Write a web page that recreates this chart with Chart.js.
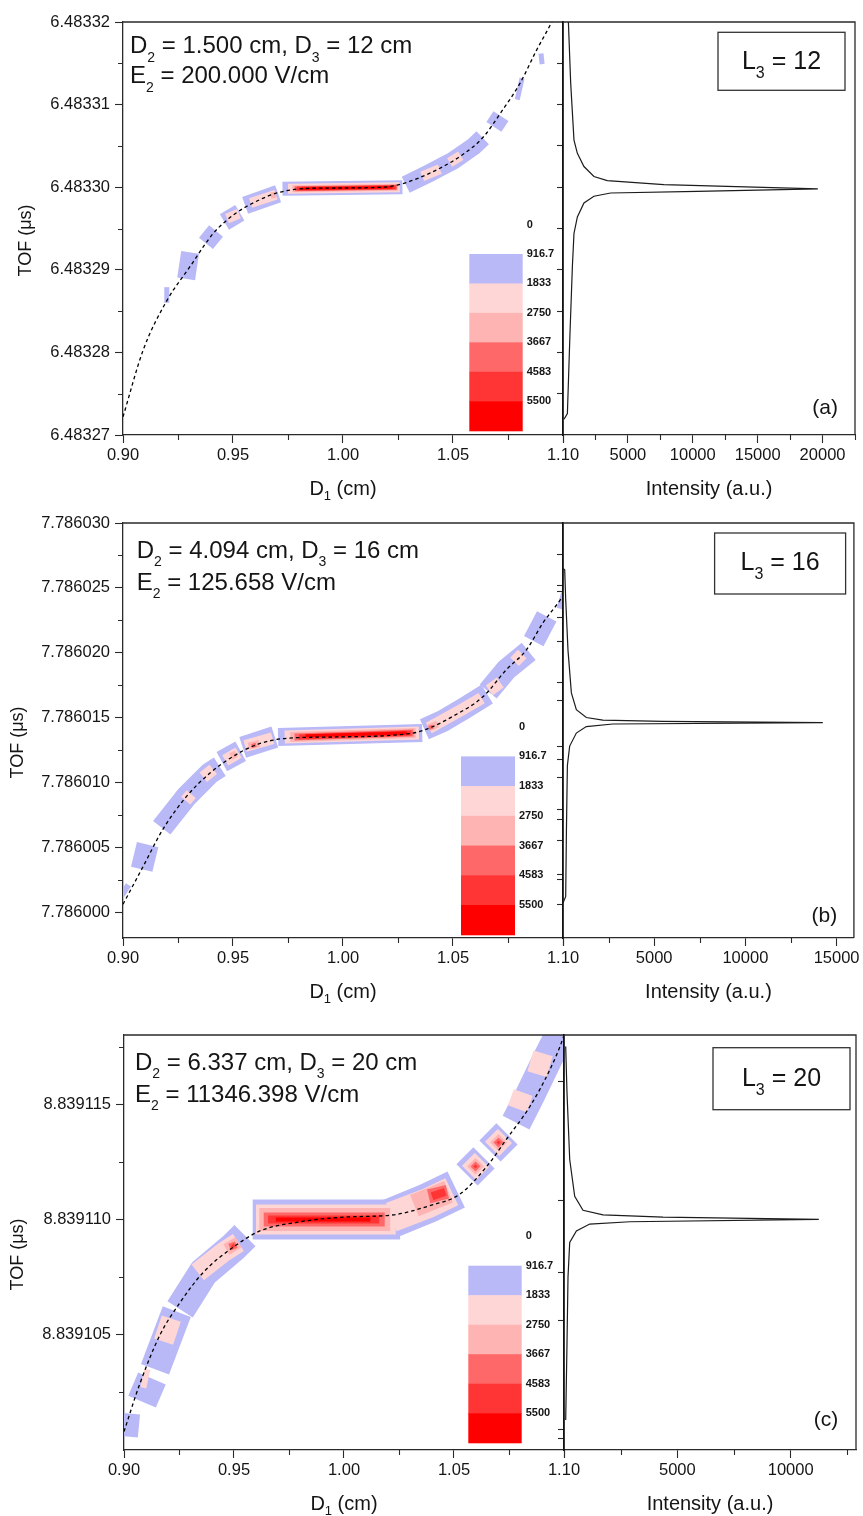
<!DOCTYPE html>
<html>
<head>
<meta charset="utf-8">
<script src="https://cdn.jsdelivr.net/npm/chart.js@4.4.1/dist/chart.umd.min.js"></script>
<style>
  body { margin: 0; background: #fff; }
  #page { position: relative; width: 863px; height: 1516px; overflow: hidden; background: #fff; }
  #page canvas { position: absolute; }
</style>
</head>
<body>
<div id="page"></div>
<script>
// ---------- contour levels (colour bar) ----------
const levelLabels = ['0', '916.7', '1833', '2750', '3667', '4583', '5500'];
const levelColors = ['#b9b9f8', '#ffd6d6', '#ffb4b4', '#ff6868', '#ff3535', '#ff0000'];

// D1 axis, shared by the three contour maps
const d1Ticks = [0.90, 0.95, 1.00, 1.05, 1.10];
const d1Minor = [0.925, 0.975, 1.025, 1.075];

// ---------- (a) L3 = 12 ----------
const tofTicksA = [6.48327, 6.48328, 6.48329, 6.48330, 6.48331, 6.48332];
const tofMinorA = [6.483275, 6.483285, 6.483295, 6.483305, 6.483315];
const fitA = [
  [0.9000, 6.4832722], [0.9092, 6.4832803], [0.9200, 6.4832863], [0.9305, 6.4832904],
  [0.9410, 6.4832944], [0.9500, 6.4832966], [0.9592, 6.4832981], [0.9700, 6.4832993],
  [0.9805, 6.4832998], [0.9955, 6.4832999], [1.0180, 6.4833000], [1.0395, 6.4833017],
  [1.0592, 6.4833049], [1.0645, 6.4833063], [1.0714, 6.4833089], [1.0805, 6.4833126],
  [1.0880, 6.4833166], [1.0949, 6.4833200], [1.0970, 6.4833212]
];
const ridgeA = [
  { lvl: 1, pts: [[0.9725, 6.4832998], [1.0270, 6.4833000]] },
  { lvl: 2, pts: [[0.9750, 6.4832998], [1.0258, 6.4833000]] },
  { lvl: 3, pts: [[0.9770, 6.4832998], [1.0250, 6.4833000]] },
  { lvl: 4, pts: [[0.9780, 6.4832998], [1.0245, 6.4833000]] },
  { lvl: 5, pts: [[0.9790, 6.4832998], [1.0240, 6.4833000]] },
  { lvl: 6, pts: [[0.9810, 6.4832998], [1.0225, 6.4833000]] }
];
const lobesA = [
  { lvl: 1, pts: [[0.9287, 6.4832889], [0.9305, 6.4832921]] },
  { lvl: 1, pts: [[0.9377, 6.4832932], [0.9423, 6.4832947]] },
  { lvl: 1, pts: [[0.9461, 6.4832958], [0.9531, 6.4832969]] },
  { lvl: 1, pts: [[0.9555, 6.4832978], [0.9705, 6.4832992]] },
  { lvl: 1, pts: [[1.0285, 6.4833003], [1.0400, 6.4833018], [1.0500, 6.4833032], [1.0592, 6.4833049], [1.0635, 6.4833060]] },
  { lvl: 1, pts: [[1.0686, 6.4833073], [1.0718, 6.4833086]] },
  { lvl: 2, pts: [[0.9473, 6.4832962], [0.9527, 6.4832968]] },
  { lvl: 2, pts: [[0.9580, 6.4832981], [0.9695, 6.4832991]] },
  { lvl: 2, pts: [[1.0360, 6.4833013], [1.0440, 6.4833022]] },
  { lvl: 2, pts: [[1.0485, 6.4833030], [1.0535, 6.4833038]] },
  { lvl: 3, pts: [[0.9672, 6.4832990], [0.9695, 6.4832991]] }
];
const flecksA = [
  { lvl: 1, pts: [[0.9199, 6.4832860], [0.9199, 6.4832879]] },
  { lvl: 1, pts: [[1.0792, 6.4833106], [1.0814, 6.4833132]] },
  { lvl: 1, pts: [[1.0905, 6.4833149], [1.0900, 6.4833162]] }
];
const intensityA = [77, 338, 538, 723, 846, 1107, 1615, 2384, 3668, 10335, 19640, 7767, 3414, 2384, 1615, 1107, 846, 592, 415];
const specTofA = [6.4832719, 6.4832726, 6.4832823, 6.4832904, 6.4832944, 6.4832964, 6.4832981, 6.4832989, 6.4832993,
  6.4832995, 6.4832998, 6.4833003, 6.4833008, 6.4833013, 6.4833025, 6.4833041, 6.4833057, 6.4833126, 6.4833200];
const intTicksA = [0, 5000, 10000, 15000, 20000];
const intMinorA = [2500, 7500, 12500, 17500, 22500];
const sideTicksA = [6.483275, 6.48328, 6.483285, 6.48329, 6.483295, 6.4833, 6.483305, 6.48331, 6.483315];

// ---------- (b) L3 = 16 ----------
const tofTicksB = [7.786000, 7.786005, 7.786010, 7.786015, 7.786020, 7.786025, 7.786030];
const tofMinorB = [7.7860025, 7.7860075, 7.7860125, 7.7860175, 7.7860225, 7.7860275];
const fitB = [
  [0.9000, 7.7860006], [0.9091, 7.7860035], [0.9182, 7.7860064], [0.9288, 7.7860089],
  [0.9394, 7.7860107], [0.9500, 7.7860120], [0.9606, 7.7860129], [0.9743, 7.7860134],
  [0.9955, 7.7860135], [1.0318, 7.7860138], [1.0394, 7.7860142], [1.0500, 7.7860151],
  [1.0636, 7.7860166], [1.0743, 7.7860187], [1.0833, 7.7860202], [1.0909, 7.7860223],
  [1.0993, 7.7860242], [1.1000, 7.7860244]
];
const ridgeB = [
  { lvl: 1, pts: [[0.9705, 7.7860135], [1.0360, 7.7860138]] },
  { lvl: 2, pts: [[0.9735, 7.7860135], [1.0345, 7.7860138]] },
  { lvl: 3, pts: [[0.9760, 7.7860135], [1.0330, 7.7860138]] },
  { lvl: 4, pts: [[0.9780, 7.7860135], [1.0320, 7.7860138]] },
  { lvl: 5, pts: [[0.9800, 7.7860135], [1.0310, 7.7860138]] },
  { lvl: 6, pts: [[0.9830, 7.7860136], [1.0290, 7.7860138]] }
];
const lobesB = [
  { lvl: 1, pts: [[0.9085, 7.7860033], [0.9112, 7.7860052]] },
  { lvl: 1, pts: [[0.9176, 7.7860065], [0.9288, 7.7860089], [0.9394, 7.7860107], [0.9440, 7.7860112]] },
  { lvl: 1, pts: [[0.9449, 7.7860116], [0.9535, 7.7860124]] },
  { lvl: 1, pts: [[0.9544, 7.7860127], [0.9690, 7.7860135]] },
  { lvl: 1, pts: [[1.0370, 7.7860141], [1.0450, 7.7860147], [1.0550, 7.7860157], [1.0655, 7.7860168]] },
  { lvl: 1, pts: [[1.0660, 7.7860170], [1.0743, 7.7860187], [1.0844, 7.7860201]] },
  { lvl: 1, pts: [[1.0867, 7.7860209], [1.0926, 7.7860228]] },
  { lvl: 2, pts: [[0.9285, 7.7860086], [0.9310, 7.7860091]] },
  { lvl: 2, pts: [[0.9365, 7.7860104], [0.9410, 7.7860110]] },
  { lvl: 2, pts: [[0.9465, 7.7860117], [0.9525, 7.7860123]] },
  { lvl: 2, pts: [[0.9555, 7.7860128], [0.9680, 7.7860134]] },
  { lvl: 2, pts: [[1.0390, 7.7860142], [1.0550, 7.7860157], [1.0630, 7.7860165]] },
  { lvl: 2, pts: [[1.0665, 7.7860171], [1.0715, 7.7860177]] },
  { lvl: 2, pts: [[1.0780, 7.7860193], [1.0815, 7.7860199]] },
  { lvl: 3, pts: [[0.9490, 7.7860120], [0.9515, 7.7860122]] },
  { lvl: 3, pts: [[0.9570, 7.7860128], [0.9620, 7.7860130]] },
  { lvl: 3, pts: [[1.0390, 7.7860142], [1.0430, 7.7860145]] },
  { lvl: 4, pts: [[0.9585, 7.7860128], [0.9605, 7.7860129]] },
  { lvl: 4, pts: [[1.0390, 7.7860142], [1.0410, 7.7860143]] }
];
const flecksB = [
  { lvl: 1, pts: [[0.8990, 7.7860012], [0.9025, 7.7860021]] },
  { lvl: 1, pts: [[1.0985, 7.7860234], [1.1005, 7.7860246]] }
];
const intensityB = [0, 148, 186, 240, 366, 732, 1278, 2732, 14245, 5464, 2186, 1278, 732, 459, 273, 148, 93, 0];
const specTofB = [7.7860007, 7.7860012, 7.7860061, 7.7860113, 7.7860128, 7.7860138, 7.7860143, 7.7860145, 7.7860146,
  7.7860147, 7.7860148, 7.7860150, 7.7860156, 7.7860169, 7.7860202, 7.7860241, 7.7860264, 7.7860265];
const intTicksB = [0, 5000, 10000, 15000];
const intMinorB = [2500, 7500, 12500];
const sideTicksB = [7.7860006, 7.7860025, 7.7860029, 7.7860055, 7.7860071, 7.7860079, 7.7860104, 7.7860118,
  7.7860128, 7.7860163, 7.7860177, 7.7860209, 7.7860227, 7.7860247, 7.7860252, 7.7860276];

// ---------- (c) L3 = 20 ----------
const tofTicksC = [8.839105, 8.839110, 8.839115];
const tofMinorC = [8.8391025, 8.8391075, 8.8391125, 8.8391175];
const fitC = [
  [0.9000, 8.8391008], [0.9073, 8.8391029], [0.9164, 8.8391050], [0.9255, 8.8391064],
  [0.9360, 8.8391077], [0.9497, 8.8391088], [0.9618, 8.8391095], [0.9800, 8.8391099],
  [0.9997, 8.8391101], [1.0224, 8.8391102], [1.0390, 8.8391106], [1.0527, 8.8391111],
  [1.0649, 8.8391123], [1.0740, 8.8391135], [1.0845, 8.8391149], [1.0936, 8.8391165],
  [1.0997, 8.8391179], [1.1000, 8.8391180]
];
const ridgeC = [
  { lvl: 1, pts: [[0.9585, 8.8391100], [1.0255, 8.8391100]] },
  { lvl: 2, pts: [[0.9600, 8.8391100], [1.0235, 8.8391100]] },
  { lvl: 3, pts: [[0.9615, 8.8391100], [1.0210, 8.8391100]] },
  { lvl: 4, pts: [[0.9635, 8.8391100], [1.0185, 8.8391100]] },
  { lvl: 5, pts: [[0.9655, 8.8391100], [1.0160, 8.8391100]] },
  { lvl: 6, pts: [[0.9690, 8.8391100], [1.0120, 8.8391100]] },
  { lvl: 1, pts: [[1.0200, 8.8391100], [1.0380, 8.8391107], [1.0510, 8.8391113]] },
  { lvl: 2, pts: [[1.0215, 8.8391101], [1.0380, 8.8391107], [1.0490, 8.8391112]] },
  { lvl: 3, pts: [[1.0320, 8.8391106], [1.0475, 8.8391112]] },
  { lvl: 4, pts: [[1.0385, 8.8391110], [1.0470, 8.8391112]] },
  { lvl: 5, pts: [[1.0400, 8.8391110], [1.0460, 8.8391112]] }
];
const lobesC = [
  { lvl: 1, pts: [[0.8995, 8.8391006], [0.9005, 8.8391016]] },
  { lvl: 1, pts: [[0.9082, 8.8391021], [0.9127, 8.8391031]] },
  { lvl: 1, pts: [[0.9141, 8.8391035], [0.9240, 8.8391060]] },
  { lvl: 1, pts: [[0.9255, 8.8391061], [0.9361, 8.8391077], [0.9497, 8.8391088], [0.9550, 8.8391093]] },
  { lvl: 1, pts: [[1.05591, 8.83911193], [1.06364, 8.83911267]] },
  { lvl: 1, pts: [[1.06636, 8.83911297], [1.07409, 8.83911371]] },
  { lvl: 1, pts: [[1.0782, 8.8391142], [1.0846, 8.8391154], [1.0927, 8.8391170], [1.0991, 8.8391182]] },
  { lvl: 2, pts: [[0.9180, 8.8391047], [0.9215, 8.8391057]] },
  { lvl: 2, pts: [[0.9335, 8.8391077], [0.9455, 8.8391086], [0.9520, 8.8391090]] },
  { lvl: 2, pts: [[1.05686, 8.83911202], [1.06268, 8.83911258]] },
  { lvl: 2, pts: [[1.06732, 8.83911306], [1.07314, 8.83911362]] },
  { lvl: 2, pts: [[1.0788, 8.8391148], [1.0815, 8.8391155]] },
  { lvl: 2, pts: [[1.0877, 8.8391163], [1.0905, 8.8391172]] },
  { lvl: 3, pts: [[0.9465, 8.8391087], [0.9520, 8.8391090]] },
  { lvl: 3, pts: [[1.05786, 8.83911212], [1.06168, 8.83911248]] },
  { lvl: 3, pts: [[1.06832, 8.83911316], [1.07214, 8.83911352]] },
  { lvl: 4, pts: [[0.9480, 8.8391088], [0.9510, 8.8391089]] },
  { lvl: 4, pts: [[1.05864, 8.83911219], [1.06091, 8.83911241]] },
  { lvl: 4, pts: [[1.06909, 8.83911323], [1.07136, 8.83911345]] },
  { lvl: 5, pts: [[0.9490, 8.8391088], [0.9503, 8.8391089]] },
  { lvl: 5, pts: [[1.05932, 8.83911225], [1.06023, 8.83911234]] },
  { lvl: 5, pts: [[1.06977, 8.83911330], [1.07068, 8.83911338]] }
];
const flecksC = [
  { lvl: 2, pts: [[0.9088, 8.8391027], [0.9106, 8.8391035]] }
];
const intensityC = [75, 132, 177, 252, 547, 1134, 2900, 11240, 4369, 1721, 838, 472, 252, 132, 75];
const specTofC = [8.8391013, 8.8391046, 8.8391075, 8.8391090, 8.8391095, 8.8391098, 8.8391099, 8.8391100,
  8.8391101, 8.8391102, 8.8391104, 8.8391110, 8.8391126, 8.8391155, 8.8391175];
const intTicksC = [0, 5000, 10000];
const intMinorC = [2500, 7500, 12500];
const sideTicksC = [8.8391005, 8.8391009, 8.8391056, 8.8391077, 8.8391108, 8.8391160];

// ---------- page layout ----------
const FONT = '"Liberation Sans", Arial, Helvetica, sans-serif';
const INK = '#151515';
const AXIS = '#2a2a2a';
const PAD_T = 30, PAD_B = 80, LEFT_W = 600, RIGHT_X = 540, PAGE_W = 863;

const panels = [
  {
    top: 22, bottom: 435, left: 123, mid: 563, right: 855,
    tofMin: 6.48327, tofMax: 6.48332, digits: 5,
    tofTicks: tofTicksA, tofMinor: tofMinorA, fit: fitA,
    ridge: ridgeA, lobes: lobesA, flecks: flecksA,
    ridgeW: [14, 10, 7, 5, 4, 2.5], lobeW: [18, 10, 6, 4, 3], fleckW: 5,
    intensity: intensityA, specTof: specTofA, intMax: 22500,
    intTicks: intTicksA, intMinor: intMinorA, sideTicks: sideTicksA,
    note: ['D_2 = 1.500 cm, D_3 = 12 cm', 'E_2 = 200.000 V/cm'], noteX: 7, noteY: 31.3, noteGap: 30,
    tag: 'L_3 = 12', box: { r: 10, t: 10.3, w: 127, h: 58, base: 36.7 },
    letter: '(a)', letterR: 17, letterB: 21,
    bar: { x: 346.3, y: 232, w: 53.4, h: 176.7 }, tofTitleX: 26
  },
  {
    top: 523, bottom: 938, left: 123, mid: 563, right: 855,
    tofMin: 7.785998, tofMax: 7.786030, digits: 6,
    tofTicks: tofTicksB, tofMinor: tofMinorB, fit: fitB,
    ridge: ridgeB, lobes: lobesB, flecks: flecksB,
    ridgeW: [18, 13, 10, 7, 5, 3], lobeW: [22, 12, 7, 4], fleckW: 6,
    intensity: intensityB, specTof: specTofB, intMax: 15950,
    intTicks: intTicksB, intMinor: intMinorB, sideTicks: sideTicksB,
    note: ['D_2 = 4.094 cm, D_3 = 16 cm', 'E_2 = 125.658 V/cm'], noteX: 13.7, noteY: 35, noteGap: 31.7,
    tag: 'L_3 = 16', box: { r: 8.3, t: 10, w: 131, h: 61, base: 37.4 },
    letter: '(b)', letterR: 16.7, letterB: 16,
    bar: { x: 338, y: 233.4, w: 54, h: 178.3 }, tofTitleX: 18
  },
  {
    top: 1035, bottom: 1450, left: 124, mid: 564, right: 856,
    tofMin: 8.8391, tofMax: 8.839118, digits: 6,
    tofTicks: tofTicksC, tofMinor: tofMinorC, fit: fitC,
    ridge: ridgeC, lobes: lobesC, flecks: flecksC,
    ridgeW: [40, 30, 23, 14, 8, 4], lobeW: [30, 20, 12, 7, 3], fleckW: 6,
    intensity: intensityC, specTof: specTofC, intMax: 12880,
    intTicks: intTicksC, intMinor: intMinorC, sideTicks: sideTicksC,
    note: ['D_2 = 6.337 cm, D_3 = 20 cm', 'E_2 = 11346.398 V/cm'], noteX: 11, noteY: 35, noteGap: 31.7,
    tag: 'L_3 = 20', box: { r: 6, t: 12.7, w: 137, h: 62, base: 38.3 },
    letter: '(c)', letterR: 17.7, letterB: 24,
    bar: { x: 344.3, y: 230.7, w: 53.4, h: 177 }, tofTitleX: 18
  }
];

const page = document.getElementById('page');

function addCanvas(x, y, w, h) {
  const cv = document.createElement('canvas');
  cv.width = w; cv.height = h;
  cv.style.left = x + 'px'; cv.style.top = y + 'px';
  cv.style.width = w + 'px'; cv.style.height = h + 'px';
  page.appendChild(cv);
  return cv;
}

// text with single-character subscripts written as "_2"
function richText(ctx, str, x, y, size, subSize, subDy, align) {
  const parts = str.split(/_(\w)/);
  const fontOf = i => (i % 2 ? subSize : size) + 'px ' + FONT;
  let w = 0;
  parts.forEach((s, i) => { ctx.font = fontOf(i); w += ctx.measureText(s).width; });
  let cx = align === 'center' ? x - w / 2 : x;
  ctx.textAlign = 'left';
  parts.forEach((s, i) => {
    ctx.font = fontOf(i);
    ctx.fillText(s, cx, i % 2 ? y + subDy : y);
    cx += ctx.measureText(s).width;
  });
}

function bandSets(list, widths) {
  return list.map(b => ({
    data: b.pts.map(([x, y]) => ({ x, y })),
    borderColor: levelColors[b.lvl - 1],
    borderWidth: Array.isArray(widths) ? widths[b.lvl - 1] : widths,
    borderCapStyle: 'butt',
    borderJoinStyle: 'round',
    fill: false, tension: 0, clip: 0,
    order: 20 - b.lvl
  }));
}

function tickFont() { return { family: FONT, size: 16.5 }; }

function contourChart(p) {
  const h = p.bottom - p.top + PAD_T + PAD_B;
  const cv = addCanvas(0, p.top - PAD_T, LEFT_W, h);

  const decor = {
    id: 'decorLeft',
    afterDraw(chart) {
      const ctx = chart.ctx, a = chart.chartArea;
      const xs = chart.scales.x, ys = chart.scales.y;
      ctx.save();
      // top and right frame
      ctx.strokeStyle = AXIS; ctx.lineWidth = 1.3;
      ctx.beginPath();
      ctx.moveTo(a.left, a.top); ctx.lineTo(a.right, a.top); ctx.lineTo(a.right, a.bottom);
      ctx.stroke();
      // minor ticks
      ctx.lineWidth = 1.1;
      ctx.beginPath();
      d1Minor.forEach(v => { const x = Math.round(xs.getPixelForValue(v)) + 0.5; ctx.moveTo(x, a.bottom); ctx.lineTo(x, a.bottom + 5); });
      p.tofMinor.forEach(v => { const y = Math.round(ys.getPixelForValue(v)) + 0.5; ctx.moveTo(a.left - 5, y); ctx.lineTo(a.left, y); });
      ctx.stroke();

      // colour scale
      const bx = a.left + p.bar.x, by = a.top + p.bar.y, bw = p.bar.w;
      const bh = p.bar.h / levelColors.length;
      levelColors.forEach((c, i) => { ctx.fillStyle = c; ctx.fillRect(bx, by + i * bh, bw, bh + 0.6); });
      ctx.fillStyle = INK;
      ctx.font = 'bold 11px ' + FONT;
      ctx.textAlign = 'left'; ctx.textBaseline = 'middle';
      levelLabels.forEach((s, i) => ctx.fillText(s, bx + bw + 4, by + (i - 1) * bh));

      // parameter note
      ctx.textBaseline = 'alphabetic';
      p.note.forEach((s, i) => richText(ctx, s, a.left + p.noteX, a.top + p.noteY + i * p.noteGap, 24, 14, 8.4, 'left'));

      // axis titles
      richText(ctx, 'D_1 (cm)', (a.left + a.right) / 2, a.bottom + 59.5, 20, 13, 5.3, 'center');
      ctx.translate(p.tofTitleX, (a.top + a.bottom) / 2 + 12);
      ctx.rotate(-Math.PI / 2);
      ctx.textBaseline = 'middle';
      richText(ctx, 'TOF (μs)', 0, 0, 18, 12, 0, 'center');
      ctx.restore();
    }
  };

  const datasets = [
    ...bandSets(p.ridge, p.ridgeW),
    ...bandSets(p.lobes, p.lobeW),
    ...bandSets(p.flecks, p.fleckW),
    {
      data: p.fit.map(([x, y]) => ({ x, y })),
      borderColor: '#000', borderWidth: 1.3, borderDash: [3.5, 3],
      cubicInterpolationMode: 'monotone', fill: false, clip: 0, order: 0
    }
  ];

  new Chart(cv, {
    type: 'line',
    data: { datasets },
    options: {
      responsive: false, animation: false, events: [],
      layout: { padding: { top: PAD_T, right: LEFT_W - p.mid, bottom: 0, left: 0 } },
      elements: { point: { radius: 0 } },
      plugins: { legend: { display: false }, tooltip: { enabled: false } },
      scales: {
        x: {
          type: 'linear', min: 0.9, max: 1.1, bounds: 'data',
          afterBuildTicks: s => { s.ticks = d1Ticks.map(v => ({ value: v })); },
          afterFit: s => { s.height = PAD_B; },
          ticks: { callback: v => v.toFixed(2), font: tickFont(), color: INK, padding: 3, maxRotation: 0, autoSkip: false },
          grid: { drawOnChartArea: false, tickLength: 8, tickColor: AXIS, tickWidth: 1.1 },
          border: { color: AXIS, width: 1.3 }
        },
        y: {
          type: 'linear', min: p.tofMin, max: p.tofMax, bounds: 'data',
          afterBuildTicks: s => { s.ticks = p.tofTicks.map(v => ({ value: v })); },
          afterFit: s => { s.width = p.left; },
          ticks: { callback: v => v.toFixed(p.digits), font: tickFont(), color: INK, padding: 5, autoSkip: false },
          grid: { drawOnChartArea: false, tickLength: 8, tickColor: AXIS, tickWidth: 1.1 },
          border: { color: AXIS, width: 1.3 }
        }
      }
    },
    plugins: [decor]
  });
}

function spectrumChart(p) {
  const h = p.bottom - p.top + PAD_T + PAD_B;
  const w = PAGE_W - RIGHT_X;
  const cv = addCanvas(RIGHT_X, p.top - PAD_T, w, h);

  const decor = {
    id: 'decorRight',
    afterDraw(chart) {
      const ctx = chart.ctx, a = chart.chartArea, xs = chart.scales.x;
      ctx.save();
      ctx.strokeStyle = AXIS; ctx.lineWidth = 1.3;
      ctx.beginPath();
      ctx.moveTo(a.left, a.top); ctx.lineTo(a.right, a.top); ctx.lineTo(a.right, a.bottom);
      ctx.stroke();
      ctx.lineWidth = 1.1;
      ctx.beginPath();
      p.intMinor.forEach(v => { const x = Math.round(xs.getPixelForValue(v)) + 0.5; ctx.moveTo(x, a.bottom); ctx.lineTo(x, a.bottom + 5); });
      ctx.stroke();

      // L3 label box
      const bx = a.right - p.box.r - p.box.w, by = a.top + p.box.t;
      ctx.strokeStyle = '#333'; ctx.lineWidth = 1.3;
      ctx.strokeRect(bx, by, p.box.w, p.box.h);
      ctx.fillStyle = INK; ctx.textBaseline = 'alphabetic';
      richText(ctx, p.tag, bx + p.box.w / 2, by + p.box.base, 25, 16, 9, 'center');

      // panel letter
      ctx.font = '21px ' + FONT; ctx.textAlign = 'right';
      ctx.fillText(p.letter, a.right - p.letterR, a.bottom - p.letterB);

      richText(ctx, 'Intensity (a.u.)', (a.left + a.right) / 2, a.bottom + 59.5, 20, 13, 5, 'center');
      ctx.restore();
    }
  };

  new Chart(cv, {
    type: 'line',
    data: {
      datasets: [{
        data: p.intensity.map((x, i) => ({ x, y: p.specTof[i] })),
        borderColor: '#1c1c1c', borderWidth: 1.2, tension: 0, fill: false, clip: 0
      }]
    },
    options: {
      responsive: false, animation: false, events: [],
      layout: { padding: { top: PAD_T, right: PAGE_W - p.right, bottom: 0, left: 0 } },
      elements: { point: { radius: 0 } },
      plugins: { legend: { display: false }, tooltip: { enabled: false } },
      scales: {
        x: {
          type: 'linear', min: 0, max: p.intMax, bounds: 'data',
          afterBuildTicks: s => { s.ticks = p.intTicks.map(v => ({ value: v })); },
          afterFit: s => { s.height = PAD_B; },
          ticks: { callback: v => (v === 0 ? '' : String(v)), font: tickFont(), color: INK, padding: 3, maxRotation: 0, autoSkip: false },
          grid: { drawOnChartArea: false, tickLength: 8, tickColor: AXIS, tickWidth: 1.1 },
          border: { color: AXIS, width: 1.3 }
        },
        y: {
          type: 'linear', min: p.tofMin, max: p.tofMax, bounds: 'data',
          afterBuildTicks: s => { s.ticks = p.sideTicks.map(v => ({ value: v })); },
          afterFit: s => { s.width = p.mid - RIGHT_X; },
          ticks: { display: false, autoSkip: false },
          grid: { drawOnChartArea: false, tickLength: 6, tickColor: AXIS, tickWidth: 1.1 },
          border: { color: '#111', width: 1.6 }
        }
      }
    },
    plugins: [decor]
  });
}

panels.forEach(p => { contourChart(p); spectrumChart(p); });
</script>
</body>
</html>
